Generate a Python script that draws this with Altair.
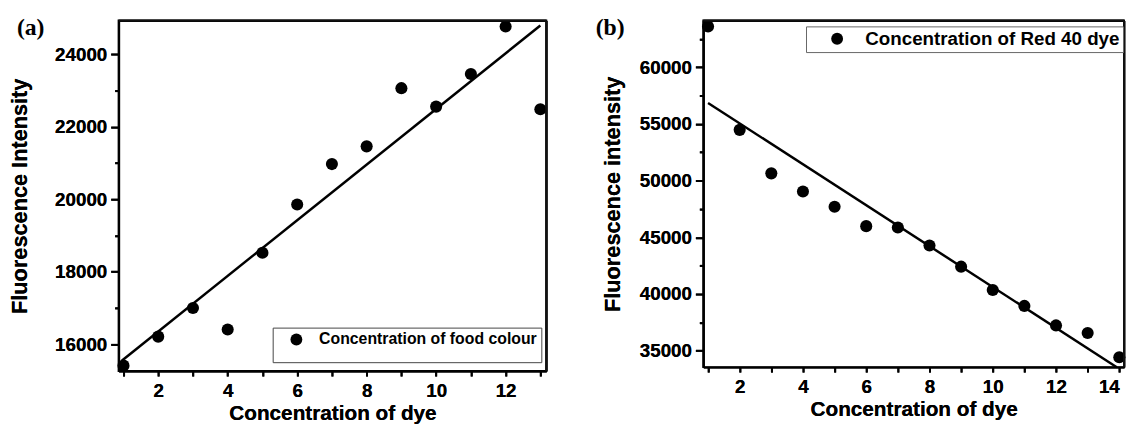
import altair as alt
import pandas as pd

# ---------------- data ----------------
conc_a = [1, 2, 3, 4, 5, 6, 7, 8, 9, 10, 11, 12, 13]
food_colour = [15410, 16210, 16999, 16408, 18524, 19856, 20972, 21461, 23067, 22558, 23456, 24770, 22484]
fit_a_x = [0.95, 13.0]
fit_a_y = [15545, 24795]

conc_b = [1, 2, 3, 4, 5, 6, 7, 8, 9, 10, 11, 12, 13, 14]
red40 = [63600, 54477, 50640, 49040, 47700, 45985, 45870, 44276, 42410, 40350, 38950, 37230, 36560, 34424]
fit_b_x = [1.0, 13.92]
fit_b_y = [56850, 33540]

series_a = "Concentration of food colour"
series_b = "Concentration of Red 40 dye"
panel_labels = ["(a)", "(b)"]

x_ticks_a = [1, 2, 3, 4, 5, 6, 7, 8, 9, 10, 11, 12, 13]
y_ticks_a = [16000, 17000, 18000, 19000, 20000, 21000, 22000, 23000, 24000]
x_ticks_b = [1, 2, 3, 4, 5, 6, 7, 8, 9, 10, 11, 12, 13, 14]
y_ticks_b = [35000, 37500, 40000, 42500, 45000, 47500, 50000, 52500, 55000, 57500, 60000, 62500]

FONT = "Liberation Sans"
SERIF = "Liberation Serif"


def make_panel(xs, ys, series, fx, fy, label, xdom, ydom, xticks, yticks,
               major_y, ytitle, ytitle_pad, width, height, legend, label_x, flush):
    pts = pd.DataFrame({"conc": xs, "val": ys, "series": [series] * len(xs)})
    fit = pd.DataFrame({"conc": fx, "val": fy})
    lab = pd.DataFrame({"lab": [label]})

    xscale = alt.Scale(domain=xdom, nice=False, zero=False)
    yscale = alt.Scale(domain=ydom, nice=False, zero=False)

    xaxis = alt.Axis(
        values=xticks, labelExpr="datum.value % 2 == 0 ? datum.label : ''",
        format="d", tickSize=5, tickWidth=2, tickColor="black",
        labelPadding=6, labelFontSize=19, labelFont=FONT, labelFontWeight="bold",
        labelColor="black", titleFontSize=21, titleFont=FONT, titleFontWeight="bold",
        titleColor="black", titlePadding=2, domainColor="black", domainWidth=2,
        grid=False, labelOverlap=False, labelFlush=flush, orient="bottom",
    )
    yaxis = alt.Axis(
        values=yticks,
        labelExpr=f"datum.value % {major_y} == 0 ? datum.label : ''",
        format="d",
        tickSize={"condition": {"test": f"datum.value % {major_y} != 0", "value": 4}, "value": 8},
        tickWidth=2, tickColor="black",
        labelPadding=4, labelFontSize=19, labelFont=FONT, labelFontWeight="bold",
        labelColor="black", titleFontSize=22, titleFont=FONT, titleFontWeight="bold",
        titleColor="black", titlePadding=ytitle_pad, domainColor="black", domainWidth=2,
        grid=False, labelOverlap=False, orient="left",
    )
    X = alt.X("conc:Q", scale=xscale, axis=xaxis, title="Concentration of dye")
    Y = alt.Y("val:Q", scale=yscale, axis=yaxis, title=ytitle)

    # top / right frame lines drawn as bare axis domains
    frame_x = alt.Axis(orient="top", labels=False, ticks=False, title=None, grid=False,
                       domainColor="black", domainWidth=2)
    frame_y = alt.Axis(orient="right", labels=False, ticks=False, title=None, grid=False,
                       domainColor="black", domainWidth=2)
    frame = alt.Chart(fit).mark_line(opacity=0).encode(
        x=alt.X("conc:Q", scale=xscale, axis=frame_x),
        y=alt.Y("val:Q", scale=yscale, axis=frame_y),
    )
    top_edge = alt.Chart(lab).mark_rule(color="#111111", strokeWidth=2).encode(
        x=alt.value(0), x2=alt.value(width), y=alt.value(0)
    )
    right_edge = alt.Chart(lab).mark_rule(color="#111111", strokeWidth=2).encode(
        x=alt.value(width), y=alt.value(0), y2=alt.value(height)
    )

    line = alt.Chart(fit).mark_line(color="black", strokeWidth=2.5).encode(x=X, y=Y)
    points = alt.Chart(pts).mark_point(filled=True, size=150, opacity=1).encode(
        x=X, y=Y,
        color=alt.Color("series:N", scale=alt.Scale(range=["black"]), legend=legend),
    )
    text = alt.Chart(lab).mark_text(
        align="left", baseline="top", font=SERIF, fontSize=24, fontWeight="bold", color="black"
    ).encode(x=alt.value(label_x), y=alt.value(-4), text="lab:N")
    return alt.layer(line, frame, points, text, top_edge, right_edge).resolve_axis(
        x="independent", y="independent"
    ).properties(width=width, height=height)


legend_a = alt.Legend(
    title=" ", titleOrient="bottom", titleFontSize=12, titlePadding=0,
    orient="none", legendX=156, legendY=311, padding=4,
    strokeColor="#444", fillColor="white",
    symbolType="circle", symbolSize=144, symbolFillColor="black", symbolStrokeWidth=0,
    symbolOffset=12, labelOffset=15,
    labelFont=FONT, labelFontSize=16, labelFontWeight="bold", labelColor="black", labelLimit=400,
)
legend_b = alt.Legend(
    title=None,
    orient="none", legendX=104, legendY=6, padding=3,
    strokeColor="#666", fillColor="white",
    symbolType="circle", symbolSize=144, symbolFillColor="black", symbolStrokeWidth=0,
    symbolOffset=19, labelOffset=19,
    labelFont=FONT, labelFontSize=19, labelFontWeight="bold", labelColor="black", labelLimit=400,
)

panel_a = make_panel(conc_a, food_colour, series_a, fit_a_x, fit_a_y, panel_labels[0],
                     [0.86, 13.17], [15260, 24935], x_ticks_a, y_ticks_a, 2000,
                     "Fluorescence Intensity", 23, 433, 355, legend_a, -103, False)
panel_b = make_panel(conc_b, red40, series_b, fit_b_x, fit_b_y, panel_labels[1],
                     [0.85, 14.15], [33550, 64125], x_ticks_b, y_ticks_b, 5000,
                     "Fluorescence intensity", 15, 426, 351, legend_b, -109, 8)

chart = alt.hconcat(panel_a, panel_b, spacing=47).resolve_scale(
    color="independent"
).properties(
    padding={"left": 0, "top": 5, "right": 0, "bottom": 0},
    background="white",
).configure_view(stroke="black", strokeWidth=2)

chart.save("out.html", embed_options={"renderer": "svg", "actions": False})
